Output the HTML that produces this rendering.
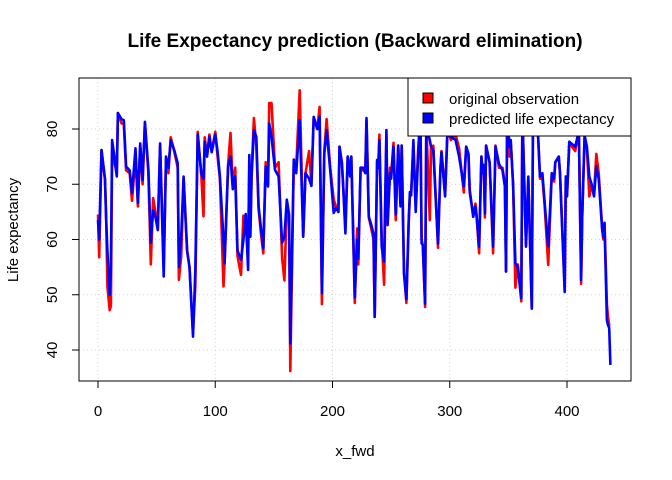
<!DOCTYPE html>
<html><head><meta charset="utf-8"><style>
html,body{margin:0;padding:0;background:#fff;}
svg{display:block;font-family:"Liberation Sans",sans-serif;}
</style></head><body>
<svg id="chart" width="672" height="480" xmlns="http://www.w3.org/2000/svg">
<rect width="672" height="480" fill="#fff"/>
<text x="355" y="47" text-anchor="middle" font-size="19" font-weight="bold">Life Expectancy prediction (Backward elimination)</text>
<g id="grid"></g>
<g id="series"></g>
<rect x="79" y="78" width="552" height="303" fill="none" stroke="#000" stroke-width="1"/>
<g id="axes"></g>
<text x="355" y="456" text-anchor="middle" font-size="15">x_fwd</text>
<text transform="translate(18,230) rotate(-90)" text-anchor="middle" font-size="15">Life expectancy</text>
<g>
<rect x="408" y="78" width="223" height="58" fill="#fff" stroke="#000"/>
<g>
<rect x="423" y="93" width="10" height="10" fill="#ff0000" stroke="#000"/>
<text x="449" y="104" font-size="15">original observation</text></g>
<g>
<rect x="423" y="113" width="10" height="10" fill="#0000ff" stroke="#000"/>
<text x="449" y="124" font-size="15">predicted life expectancy</text></g>
</g>
</svg>
<script>
const obsIdx=[0,1,3,6,7,8,10,11,12,14,16,17,20,22,24,27,29,32,34,36,38,40,43,45,47,49,51,53,56,58,60,62,65,68,69,71,73,76,78,81,83,85,88,90,91,93,95,97,100,102,104,107,108,111,113,115,117,119,122,124,126,128,129,130,131,133,135,137,139,141,143,145,146,148,151,154,157,159,161,163,164,167,169,172,175,177,180,182,184,187,189,191,193,195,198,201,203,205,206,208,209,211,213,215,216,219,221,222,224,226,228,229,231,233,235,236,238,239,240,242,244,246,247,249,250,252,254,256,258,259,261,263,265,266,267,269,271,273,275,276,277,279,280,283,284,286,290,292,293,296,298,301,305,308,312,314,316,317,320,322,323,325,327,328,329,330,331,334,337,339,342,345,347,348,349,351,352,354,356,358,361,362,365,367,370,371,374,377,379,381,384,387,389,390,393,394,398,399,400,402,407,409,410,412,413,415,417,419,421,423,425,427,430,431,432,434,435,436,437];
const predicted=[63.5,60,76.2,70.8,63.5,58,50,54.5,78,75,71.4,82.9,81.8,81.6,73.2,72.5,68.4,76.5,66.6,77.4,70.8,81.3,72.6,59.4,65.3,64,61.7,77.4,53.3,75,73,78,76.2,73.8,55,60.5,71.4,58,55,42.4,54.2,79,72,71,77.7,75,78.6,75.8,79,75.9,71.4,60,55.7,73.2,75,69.1,71.4,58,56.3,59.9,64.6,54.5,75.3,60.5,71.4,79.8,78.6,66,62,58.4,73.2,69.6,81,78.6,72.6,71.4,59.4,60.5,67.2,64.5,41.2,74.4,72,81.6,60.5,72,71,69.7,82.2,80,82.2,50.3,75.6,79.8,72.6,64.8,65.7,65,76.8,73.7,70,61.1,75,71.4,75,49.5,60,56.5,73,73,72,82,64.1,62.7,61,46,74.4,73,78,58.7,56,79.8,62.6,72,71,76.8,64.5,77,66,77,53.9,49.2,63.4,68.6,68,78,65,75,82.2,59.3,59,48.4,80.4,78,76.8,76.2,59.3,73,75.8,67.8,79.2,78.6,78,75,69.6,76.8,75.5,69,64.1,66,64,58.7,75,72,73.5,64.7,77,74,58.7,76.8,73.7,72.5,69.6,54.2,83,76.8,78,70,55.7,55,49.4,83,58.7,71.4,47.5,82,85,71.4,72,66.6,58.7,72,71,74,75,72,50.5,71.4,67.8,77.7,76.8,78.6,81.6,52.7,64,78.8,76.8,71.4,70,67.8,73.2,71,61.7,60.5,63,45.4,44.5,44,37.3];
const observed=[64.5,56.8,76.2,71,63.5,51.5,47.2,48,76,74,72,82.9,81,81,72.5,72,67,75,66,77,70,81,72,55.5,67.5,65,62,77,55,74.5,72,78.5,76,73,52.7,57,71,58,55,43,51.5,79.5,72,64.2,78.5,75,79,76,79.5,75,71,51.5,56,73.5,79.3,69.5,73,57,53.6,64.3,62.5,58,73,62,72,82,77,65.5,61,57.5,74,70,84.7,84.7,73,74,56.7,52.6,66,63,36.2,74.5,73,87,60.5,72,76,70,82,80,84,48.3,76,81.8,73,67.2,66,65,76.8,74,70,62,75,72,75,48.5,62,55.5,73,72.5,72.5,81.5,64,62,60,46,74,73,79,60,51.8,79,63,73,71.5,77.5,63.5,77,66.5,77,54,48.5,63,68,68,77,66,76,83,60,59,47.8,81,63.5,76.5,77,58.5,72.5,76,68,80,78,79,76.5,68.5,76.8,75,68.5,64.5,66.5,64,57.5,75,72.5,73,64,77,74,57.5,77,73,73,70,54.2,83,75,78,70,51.3,55.5,48.8,83,59,71,47.5,82,85,71,71,66,55.4,72,70.5,74,75,72,51,71.4,68,77.5,76,78.6,81,52,64,78.5,76.5,67.8,70,68,75.5,72,62,60,63,48.3,46,44.5,44.5];
const xTicks=[0,100,200,300,400];
const yTicks=[40,50,60,70,80];

const NS='http://www.w3.org/2000/svg';
function xs(v){return 98+v*1.1725;}
function ys(v){return 129+(80-v)*5.525;}
function mk(tag,attrs,parent){const e=document.createElementNS(NS,tag);for(const k in attrs)e.setAttribute(k,attrs[k]);parent.appendChild(e);return e;}
const grid=document.getElementById('grid'),axes=document.getElementById('axes'),series=document.getElementById('series');
xTicks.forEach(t=>{
 const g=mk('line',{x1:xs(t),x2:xs(t),y1:78,y2:381,stroke:'#d3d3d3','stroke-dasharray':'1 3'},grid);
 
 
 const tk=mk('line',{x1:xs(t),x2:xs(t),y1:381,y2:388,stroke:'#000'},axes);
 
 
 const lb=mk('text',{x:xs(t),y:416,'text-anchor':'middle','font-size':15},axes);
 lb.textContent=t;
 
 
});
mk('line',{x1:xs(0),x2:xs(400),y1:381,y2:381,stroke:'#000'},axes);
yTicks.forEach(t=>{
 const g=mk('line',{x1:79,x2:631,y1:ys(t),y2:ys(t),stroke:'#d3d3d3','stroke-dasharray':'1 3'},grid);
 
 
 const tk=mk('line',{x1:72,x2:79,y1:ys(t),y2:ys(t),stroke:'#000'},axes);
 
 
 const lb=mk('text',{transform:'translate(57,'+ys(t)+') rotate(-90)','text-anchor':'middle','font-size':15},axes);
 lb.textContent=t;
 
 
});
function line(vals,color,name){
 const d=obsIdx.map((x,i)=>(i?'L':'M')+xs(x).toFixed(1)+' '+ys(vals[i]).toFixed(1)).join(' ');
 const p=mk('path',{d:d,fill:'none',stroke:color,'stroke-width':2.6,'stroke-linejoin':'round'},series);
 
 
}
line(observed,'#ff0000','observed-line');
line(predicted,'#0000ff','predicted-line');
</script>
</body></html>
